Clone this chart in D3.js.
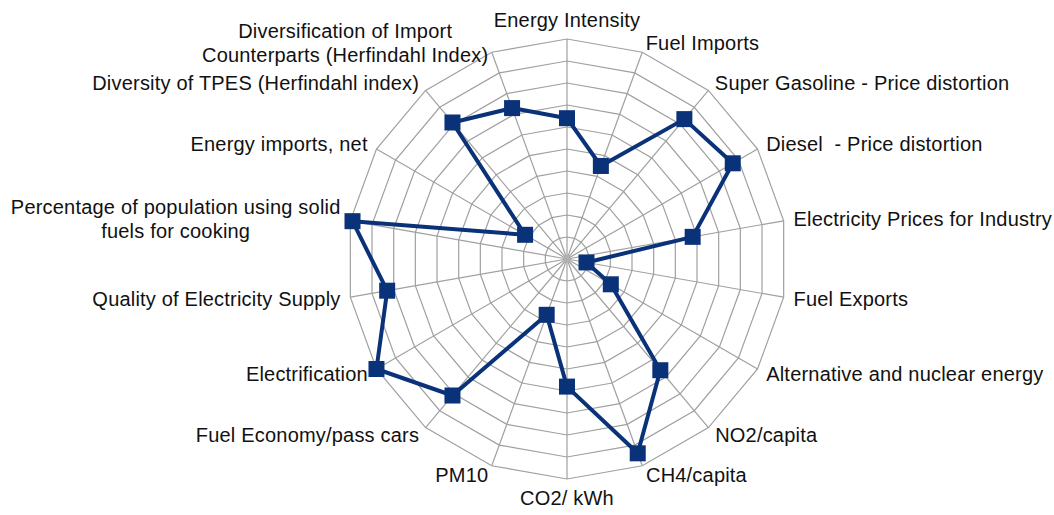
<!DOCTYPE html>
<html>
<head>
<meta http-equiv="Content-Type" content="text/html;charset=utf-8"/>
<script src="https://d3js.org/d3.v7.min.js"></script>
<style type="text/css">
body {
    margin: 0;
    background: #fff;
}
.grid {
    fill: none;
    stroke: #a0a0a0;
    stroke-width: 1.2;
}
.spoke {
    stroke: #a0a0a0;
    stroke-width: 1.2;
}
.series {
    fill: none;
    stroke: #0a3278;
    stroke-width: 4;
    stroke-linejoin: round;
}
.marker {
    fill: #0a3278;
}
.label {
    font-family: "Liberation Sans", Arial, sans-serif;
    font-size: 20px;
    letter-spacing: 0.2px;
    fill: #111;
}
</style>
</head>
<body>
<script>
// Chart size and layout
var width = 1054,
    height = 515,
    cx = 567,
    cy = 259,
    radius = 220,
    labelGap = 10,
    lineHeight = 24.5;

// Axis names, clockwise from the top ("|" splits a label onto two lines)
var categories = [
    "Energy Intensity",
    "Fuel Imports",
    "Super Gasoline - Price distortion",
    "Diesel \u00a0- Price distortion",
    "Electricity Prices for Industry",
    "Fuel Exports",
    "Alternative and nuclear energy",
    "NO2/capita",
    "CH4/capita",
    "CO2/ kWh",
    "PM10",
    "Fuel Economy/pass cars",
    "Electrification",
    "Quality of Electricity Supply",
    "Percentage of population using solid|fuels for cooking",
    "Energy imports, net",
    "Diversity of TPES (Herfindahl index)",
    "Diversification of Import|Counterparts (Herfindahl Index)"
];

// Score on each axis (0 - 10)
var values = [6.4, 4.5, 8.3, 8.7, 5.8, 0.9, 2.3, 6.6, 9.4, 5.8, 2.7, 8.1, 10, 8.3, 9.9, 2.2, 8.1, 7.3];

// Grid rings
var ringLevels = [1, 2, 3, 4, 5, 6, 7, 8, 9, 10];

var n = categories.length;

var angle = d3.scaleLinear()
              .domain([0, n])
              .range([0, 2 * Math.PI]);

var r = d3.scaleLinear()
          .domain([0, 10])
          .range([0, radius]);

var svg = d3.select("body")
            .append("svg")
            .attr("width", width)
            .attr("height", height);

var g = svg.append("g")
           .attr("transform", "translate(" + cx + "," + cy + ")");

// polar -> cartesian, 0 rad pointing up, clockwise
function point(i, rr) {
    var a = angle(i);
    return [rr * Math.sin(a), -rr * Math.cos(a)];
}

var ringLine = d3.line();

// Rings
g.selectAll(".grid")
 .data(ringLevels)
 .enter()
 .append("path")
 .attr("class", "grid")
 .attr("d", function(lv) {
     var pts = d3.range(n).map(function(i) { return point(i, r(lv)); });
     return ringLine(pts) + "Z";
 });

// Spokes
g.selectAll(".spoke")
 .data(d3.range(n))
 .enter()
 .append("line")
 .attr("class", "spoke")
 .attr("x1", 0)
 .attr("y1", 0)
 .attr("x2", function(i) { return point(i, radius)[0]; })
 .attr("y2", function(i) { return point(i, radius)[1]; });

g.append("circle")
 .attr("r", 3.5)
 .style("fill", "#b0b0b0");

// Series line
var radar = d3.lineRadial()
              .angle(function(d, i) { return angle(i); })
              .radius(function(d) { return r(d); })
              .curve(d3.curveLinearClosed);

g.append("path")
 .datum(values)
 .attr("class", "series")
 .attr("d", radar);

// Markers
g.selectAll(".marker")
 .data(values)
 .enter()
 .append("rect")
 .attr("class", "marker")
 .attr("width", 16)
 .attr("height", 16)
 .attr("x", function(d, i) { return point(i, r(d))[0] - 8; })
 .attr("y", function(d, i) { return point(i, r(d))[1] - 8; });

// Labels
var labels = g.selectAll(".label")
              .data(categories)
              .enter()
              .append("text")
              .attr("class", "label");

labels.each(function(name, i) {
    var t = d3.select(this);
    var lines = name.split("|");
    var a = angle(i);
    var s = Math.sin(a), c = Math.cos(a);
    var p = point(i, radius + labelGap);
    var x = p[0], y = p[1];

    // straight up / down labels sit a half line further out
    if (Math.abs(s) < 0.1) {
        y += (c > 0 ? -9 : 9);
    }

    lines.forEach(function(line, k) {
        t.append("tspan")
         .attr("x", 0)
         .attr("dy", k === 0 ? 0 : lineHeight)
         .text(line);
    });

    var w = this.getBBox().width;
    var anchorX;
    if (Math.abs(s) < 0.1) {
        anchorX = x;
    } else if (s > 0) {
        anchorX = x + w / 2;
    } else {
        anchorX = x - w / 2;
    }

    t.attr("text-anchor", "middle")
     .attr("dominant-baseline", "central")
     .attr("transform", "translate(" + anchorX + "," + (y - (lines.length - 1) * lineHeight / 2) + ")");
});
</script>
</body>
</html>
